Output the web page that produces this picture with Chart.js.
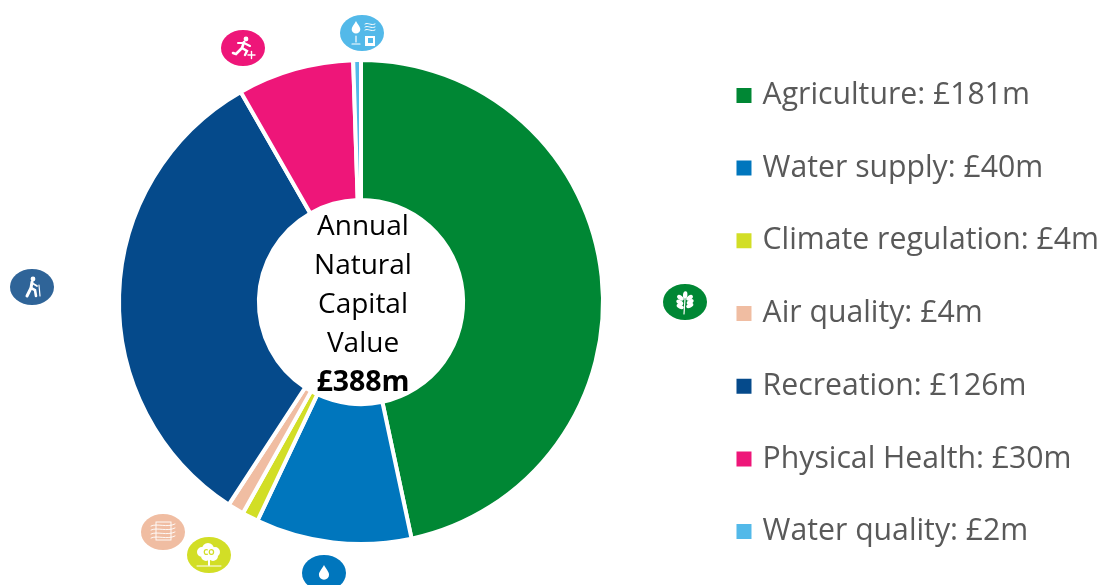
<!DOCTYPE html>
<html><head><meta charset="utf-8">
<script src="https://cdn.jsdelivr.net/npm/chart.js@4"></script>
<style>html,body{margin:0;padding:0;background:#fff}#w{position:relative;width:1103px;height:585px}canvas{display:block}</style>
</head><body><div id="w"><canvas id="c" width="1103" height="585"></canvas></div>
<script>
const categories = ['Agriculture','Water supply','Climate regulation','Air quality','Recreation','Physical Health','Water quality'];
const values = [181,40.3,4.2,4.2,126.2,30.1,2];
const colors = ['#008734','#0076BD','#D2DE26','#F0BDA2','#054A8B','#EE1679','#53B9E9'];
const centerLines = ['Annual','Natural','Capital','Value'];
const centerTotal = '£388m';
const iconKinds = ['leaf','drop','co2','air','hiker','runner','quality'];
const iconFills = ['#008734','#0076BD','#D2DE26','#F0BDA2','#2F6498','#EE1679','#53B9E9'];
const iconOffsets = [[324,0],[-37,271],[-152,253],[-198,230],[-329,-15],[-118,-254],[1,-269]];
const FONT = '"Open Sans", sans-serif';

function line(x,pts,w){x.lineWidth=w;x.beginPath();pts.forEach((p,i)=>i?x.lineTo(p[0],p[1]):x.moveTo(p[0],p[1]));x.stroke();}
function dropShape(x,cx,cy,s){x.beginPath();x.moveTo(cx,cy-s);x.bezierCurveTo(cx+s*.3,cy-s*.4,cx+s*.72,cy-s*.05,cx+s*.72,cy+s*.38);x.arc(cx,cy+s*.38,s*.72,0,Math.PI);x.bezierCurveTo(cx-s*.72,cy-s*.05,cx-s*.3,cy-s*.4,cx,cy-s);x.fill();}
function leafShape(x,cx,cy,a){x.save();x.translate(cx,cy);x.rotate(a);x.beginPath();x.ellipse(0,-2,2.2,3.8,0,0,7);x.fill();x.restore();}
const glyphs = {
  leaf(x){line(x,[[-1,12],[0,-3]],1.2);[[-3,-3,-.9],[3,-3,.9],[-3.5,1.5,-1],[3.5,1,1],[-3,5.5,-1.1],[3,4.5,1.1],[0,-5,.1]].forEach(l=>leafShape(x,l[0],l[1],l[2]));},
  drop(x){dropShape(x,0,-1,7);},
  co2(x){x.beginPath();[[-7,-3,5],[-1,-6,6],[6,-3,5],[-3,1,5],[4,1,5]].forEach(c=>{x.moveTo(c[0]+c[2],c[1]);x.arc(c[0],c[1],c[2],0,7);});x.fill();line(x,[[0,3],[0,10]],2);line(x,[[-12,11],[12,11]],1);x.fillStyle='#D2DE26';x.font='bold 8px '+FONT;x.textAlign='center';x.textBaseline='middle';x.fillText('CO',0,-2);},
  air(x){x.lineWidth=.9;x.strokeRect(-7,-10,15,18);[-7,-3,1,5].forEach(y=>{x.beginPath();x.moveTo(-12,y+1);x.bezierCurveTo(-6,y-2,4,y+3,12,y-1);x.stroke();});},
  hiker(x){x.beginPath();x.arc(1,-8,2.4,0,7);x.fill();line(x,[[0,-5],[-1,1],[-5,9]],3);line(x,[[-1,1],[3,3],[4,9]],2.6);line(x,[[0,-4],[5,-1]],1.8);line(x,[[7,-2],[8,9]],1.2);},
  runner(x){x.beginPath();x.arc(3,-9,2.4,0,7);x.fill();line(x,[[1,-6],[-1,0],[-7,6],[-10,5]],2.6);line(x,[[-1,0],[4,3],[2,7]],2.4);line(x,[[1,-5],[-5,-5]],2);line(x,[[1,-5],[7,-2]],2);line(x,[[5,7],[12,7]],1.4);line(x,[[8.5,3.5],[8.5,10.5]],1.4);},
  quality(x){dropShape(x,-6,-6,6);[-9,-6,-3].forEach(y=>{x.lineWidth=1;x.beginPath();x.moveTo(3,y);x.bezierCurveTo(6,y-2,9,y+2,13,y);x.stroke();});line(x,[[-6,3],[-6,9]],1.2);line(x,[[-10,11],[-2,11]],1.2);x.fillRect(3,3,10,10);x.fillStyle='#53B9E9';x.fillRect(6,5,5,5);}
};

const overlay = {
  id:'overlay',
  afterLayout(chart){const l=chart.legend;l.top+=11.5;l.bottom+=11.5;l.left+=6;l.right+=6;},
  afterDraw(chart){
    const x=chart.ctx, arc=chart.getDatasetMeta(0).data[0], cx=arc.x, cy=arc.y;
    x.save();
    x.fillStyle='#000';x.textAlign='center';x.textBaseline='middle';
    x.font='28px '+FONT;
    centerLines.forEach((t,i)=>x.fillText(t,cx+2,cy-75+39*i));
    x.font='bold 28.5px '+FONT;
    x.fillText(centerTotal,cx+2,cy+81);
    iconKinds.forEach((k,i)=>{
      x.save();x.translate(cx+iconOffsets[i][0],cy+iconOffsets[i][1]);
      x.fillStyle=iconFills[i];x.beginPath();x.ellipse(0,0,22,18,0,0,7);x.fill();
      x.fillStyle='#fff';x.strokeStyle='#fff';x.lineCap='round';
      glyphs[k](x);x.restore();
    });
    x.restore();
  }
};

new Chart(document.getElementById('c'),{
  type:'doughnut',
  data:{labels:categories,datasets:[{data:values,backgroundColor:colors,borderColor:'#fff',borderWidth:4,hoverOffset:0}]},
  options:{
    responsive:false,animation:false,cutout:'42.2%',radius:242,
    layout:{padding:{left:30,top:19,bottom:0,right:0}},
    plugins:{
      tooltip:{enabled:false},
      legend:{position:'right',align:'center',labels:{
        boxWidth:7,boxHeight:15,usePointStyle:true,padding:42.5,color:'#595959',font:{family:FONT,size:30.2},
        generateLabels(ch){return categories.map((c,i)=>({text:c+': £'+Math.round(values[i])+'m',fillStyle:colors[i],strokeStyle:colors[i],lineWidth:0,index:i,pointStyle:'rect',fontColor:'#595959'}));}
      }}
    }
  },
  plugins:[overlay]
});
</script></body></html>
